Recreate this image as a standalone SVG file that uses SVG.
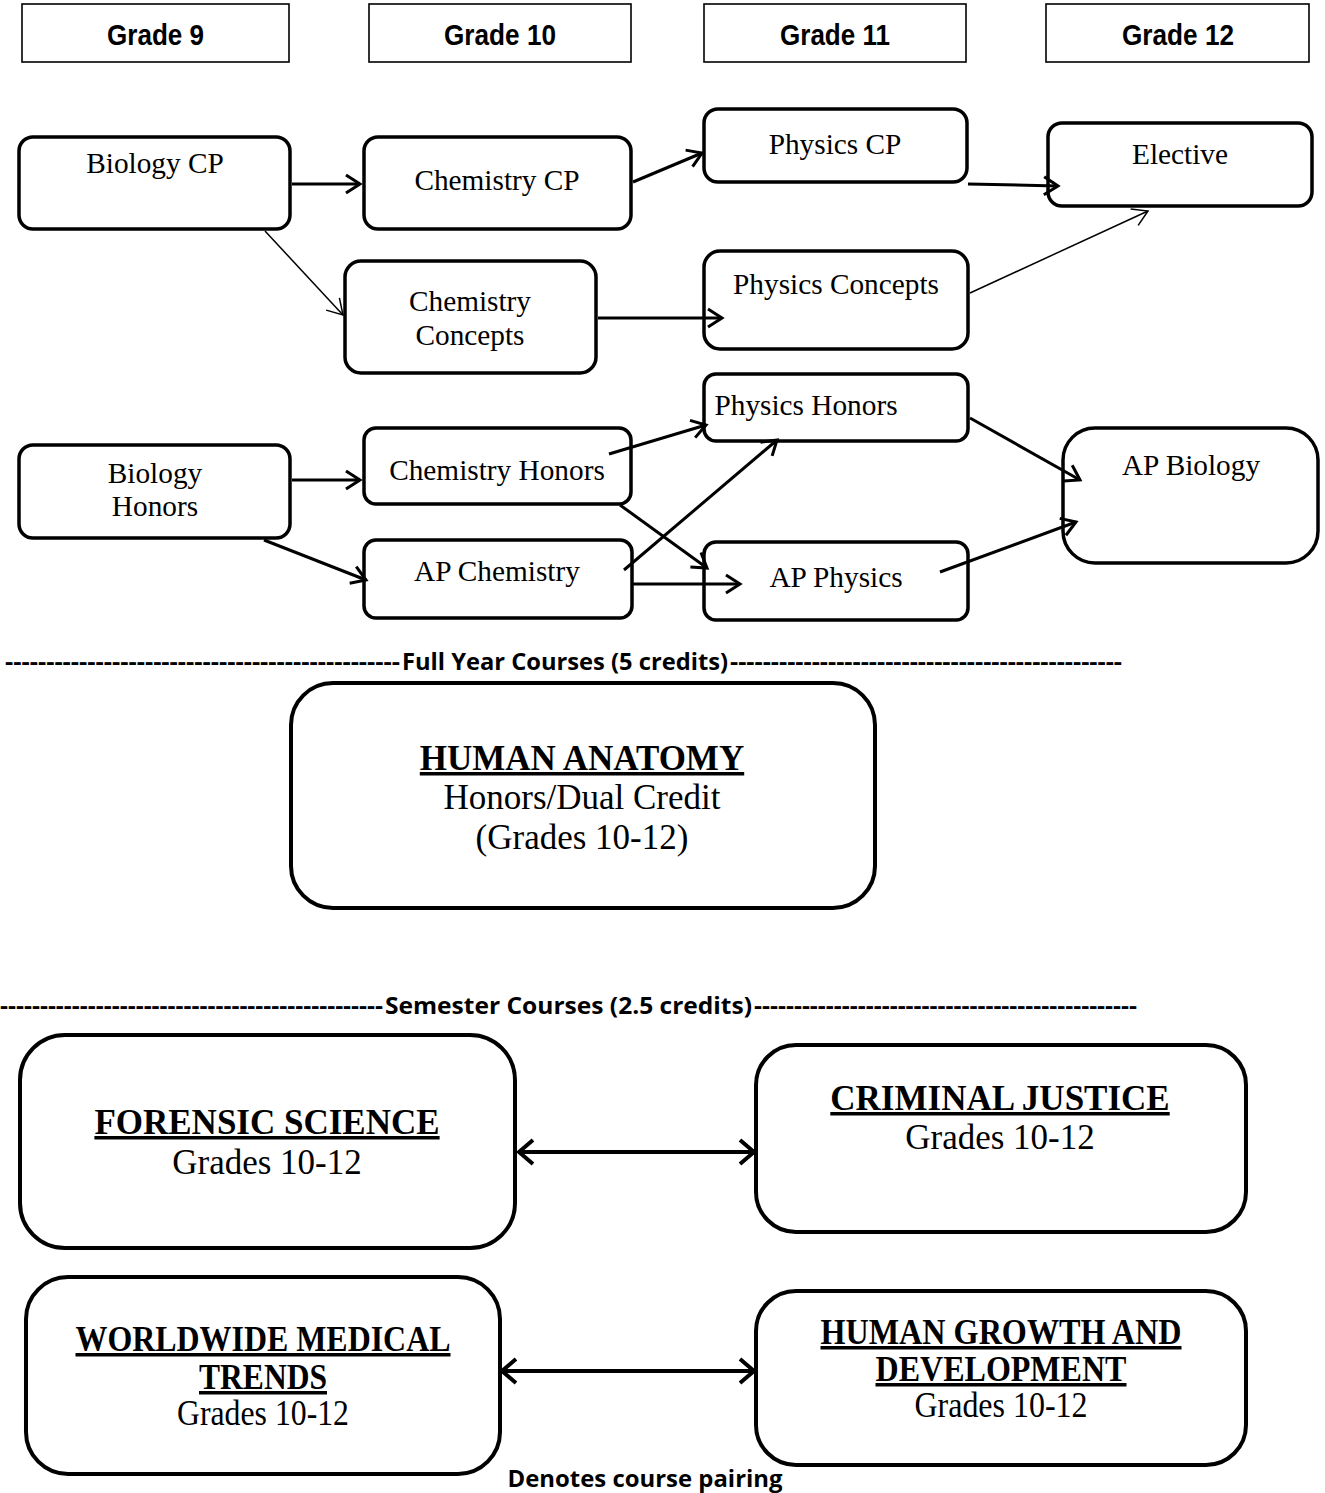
<svg xmlns="http://www.w3.org/2000/svg" width="1325" height="1493" viewBox="0 0 1325 1493">
<style>
.hdr{fill:#fff;stroke:#000;stroke-width:1.6}
.hdrt{font-family:"Liberation Sans",Arial,sans-serif;font-weight:bold;font-size:30px;text-anchor:middle}
.nd{fill:#fff;stroke:#000;stroke-width:3.5}
.big{fill:#fff;stroke:#000;stroke-width:4}
.t{font-family:"Liberation Serif","Times New Roman",serif;font-size:29.3px;text-anchor:middle}
.tb{font-family:"Liberation Serif","Times New Roman",serif;font-size:35px;text-anchor:middle;font-weight:bold;text-decoration:underline}
.tg{font-family:"Liberation Serif","Times New Roman",serif;font-size:35px;text-anchor:middle}
.sep{font-family:"Open Sans","Liberation Sans",sans-serif;font-weight:bold;font-size:24px}
.c{fill:none;stroke:#000;stroke-width:3}
.ct{fill:none;stroke:#000;stroke-width:1.5}
.cd{fill:none;stroke:#000;stroke-width:4}
</style>
<defs>
<marker id="ah" markerUnits="userSpaceOnUse" viewBox="-20 -14 24 28" markerWidth="24" markerHeight="28" refX="0" refY="0" orient="auto">
<path d="M-14,-9 L0,0 L-14,9" fill="none" stroke="#000" stroke-width="3"/>
</marker>
<marker id="aht" markerUnits="userSpaceOnUse" viewBox="-20 -14 24 28" markerWidth="24" markerHeight="28" refX="0" refY="0" orient="auto">
<path d="M-15,-9 L0,0 L-15,9" fill="none" stroke="#000" stroke-width="1.5"/>
</marker>
<marker id="ahd" markerUnits="userSpaceOnUse" viewBox="-20 -16 24 32" markerWidth="24" markerHeight="32" refX="0" refY="0" orient="auto-start-reverse">
<path d="M-14,-12 L0,0 L-14,12" fill="none" stroke="#000" stroke-width="4"/>
</marker>
</defs>

<g id="hdr-g9"><rect class="hdr" x="22" y="4" width="267" height="58"/><text class="hdrt" x="155.5" y="45" textLength="97" lengthAdjust="spacingAndGlyphs">Grade 9</text></g>
<g id="hdr-g10"><rect class="hdr" x="369" y="4" width="262" height="58"/><text class="hdrt" x="500" y="45" textLength="112" lengthAdjust="spacingAndGlyphs">Grade 10</text></g>
<g id="hdr-g11"><rect class="hdr" x="704" y="4" width="262" height="58"/><text class="hdrt" x="835" y="45" textLength="110" lengthAdjust="spacingAndGlyphs">Grade 11</text></g>
<g id="hdr-g12"><rect class="hdr" x="1046" y="4" width="263" height="58"/><text class="hdrt" x="1178" y="45" textLength="112" lengthAdjust="spacingAndGlyphs">Grade 12</text></g>

<g id="biology-cp"><rect class="nd" x="19" y="137" width="271" height="92" rx="14"/><text class="t" x="155" y="173">Biology CP</text></g>
<g id="chemistry-cp"><rect class="nd" x="364" y="137" width="267" height="92" rx="14"/><text class="t" x="497" y="190">Chemistry CP</text></g>
<g id="physics-cp"><rect class="nd" x="704" y="109" width="263" height="73" rx="14"/><text class="t" x="835" y="154">Physics CP</text></g>
<g id="elective"><rect class="nd" x="1048" y="123" width="264" height="83" rx="14"/><text class="t" x="1180" y="164">Elective</text></g>
<g id="chemistry-concepts"><rect class="nd" x="345" y="261" width="251" height="112" rx="16"/><text class="t" x="470" y="311">Chemistry</text><text class="t" x="470" y="345">Concepts</text></g>
<g id="physics-concepts"><rect class="nd" x="704" y="251" width="264" height="98" rx="16"/><text class="t" x="836" y="294">Physics Concepts</text></g>
<g id="physics-honors"><rect class="nd" x="704" y="374" width="264" height="67" rx="12"/><text class="t" x="806" y="415">Physics Honors</text></g>
<g id="biology-honors"><rect class="nd" x="19" y="445" width="271" height="93" rx="14"/><text class="t" x="155" y="483">Biology</text><text class="t" x="155" y="516">Honors</text></g>
<g id="chemistry-honors"><rect class="nd" x="364" y="428" width="267" height="76" rx="12"/><text class="t" x="497" y="480">Chemistry Honors</text></g>
<g id="ap-chemistry"><rect class="nd" x="364" y="540" width="268" height="78" rx="12"/><text class="t" x="497" y="581">AP Chemistry</text></g>
<g id="ap-physics"><rect class="nd" x="704" y="542" width="264" height="78" rx="12"/><text class="t" x="836" y="587">AP Physics</text></g>
<g id="ap-biology"><rect class="nd" x="1063" y="428" width="255" height="135" rx="32"/><text class="t" x="1191" y="475">AP Biology</text></g>

<g id="sep-full">
<text class="sep" x="5" y="670" textLength="395" lengthAdjust="spacingAndGlyphs">------------------------------------------------</text>
<text class="sep" x="402" y="670" textLength="326" lengthAdjust="spacingAndGlyphs">Full Year Courses (5 credits)</text>
<text class="sep" x="730" y="670" textLength="392" lengthAdjust="spacingAndGlyphs">------------------------------------------------</text>
</g>

<g id="human-anatomy"><rect class="big" x="291" y="683" width="584" height="225" rx="42"/>
<text class="tb" x="582" y="770">HUMAN ANATOMY</text>
<text class="tg" x="582" y="809">Honors/Dual Credit</text>
<text class="tg" x="582" y="849">(Grades 10-12)</text></g>

<g id="sep-sem">
<text class="sep" x="0" y="1014" textLength="383" lengthAdjust="spacingAndGlyphs">------------------------------------------------</text>
<text class="sep" x="385" y="1014" textLength="367" lengthAdjust="spacingAndGlyphs">Semester Courses (2.5 credits)</text>
<text class="sep" x="754" y="1014" textLength="383" lengthAdjust="spacingAndGlyphs">------------------------------------------------</text>
</g>

<g id="forensic-science"><rect class="big" x="20" y="1035" width="495" height="213" rx="45"/>
<text class="tb" x="267" y="1134">FORENSIC SCIENCE</text>
<text class="tg" x="267" y="1174">Grades 10-12</text></g>
<g id="criminal-justice"><rect class="big" x="756" y="1045" width="490" height="187" rx="40"/>
<text class="tb" x="1000" y="1110">CRIMINAL JUSTICE</text>
<text class="tg" x="1000" y="1149">Grades 10-12</text></g>
<g id="worldwide-medical-trends"><rect class="big" x="26" y="1277" width="474" height="197" rx="42"/>
<text class="tb" x="263" y="1351" textLength="375" lengthAdjust="spacingAndGlyphs">WORLDWIDE MEDICAL</text>
<text class="tb" x="263" y="1389" textLength="128" lengthAdjust="spacingAndGlyphs">TRENDS</text>
<text class="tg" x="263" y="1425" textLength="172" lengthAdjust="spacingAndGlyphs">Grades 10-12</text></g>
<g id="human-growth"><rect class="big" x="756" y="1291" width="490" height="174" rx="40"/>
<text class="tb" x="1001" y="1344" textLength="361" lengthAdjust="spacingAndGlyphs">HUMAN GROWTH AND</text>
<text class="tb" x="1001" y="1381" textLength="251" lengthAdjust="spacingAndGlyphs">DEVELOPMENT</text>
<text class="tg" x="1001" y="1417" textLength="173" lengthAdjust="spacingAndGlyphs">Grades 10-12</text></g>

<g id="legend"><text x="645" y="1487" text-anchor="middle" font-family="'Open Sans','Liberation Sans',sans-serif" font-weight="bold" font-size="23" textLength="275" lengthAdjust="spacingAndGlyphs">Denotes course pairing</text></g>

<g id="connectors">
<line class="c" x1="292" y1="184" x2="360" y2="184" marker-end="url(#ah)"/>
<line class="ct" x1="265" y1="231" x2="343" y2="315" marker-end="url(#aht)"/>
<line class="c" x1="633" y1="182" x2="702" y2="153" marker-end="url(#ah)"/>
<line class="c" x1="968" y1="184" x2="1058" y2="186" marker-end="url(#ah)"/>
<line class="ct" x1="970" y1="293" x2="1148" y2="211" marker-end="url(#aht)"/>
<line class="c" x1="598" y1="318" x2="722" y2="318" marker-end="url(#ah)"/>
<line class="c" x1="292" y1="480" x2="360" y2="480" marker-end="url(#ah)"/>
<line class="c" x1="264" y1="540" x2="366" y2="580" marker-end="url(#ah)"/>
<line class="c" x1="609" y1="454" x2="706" y2="425" marker-end="url(#ah)"/>
<line class="c" x1="620" y1="505" x2="707" y2="568" marker-end="url(#ah)"/>
<line class="c" x1="624" y1="570" x2="777" y2="440" marker-end="url(#ah)"/>
<line class="c" x1="633" y1="584" x2="740" y2="584" marker-end="url(#ah)"/>
<line class="c" x1="970" y1="418" x2="1080" y2="480" marker-end="url(#ah)"/>
<line class="c" x1="940" y1="572" x2="1076" y2="522" marker-end="url(#ah)"/>
<line class="cd" x1="519" y1="1152" x2="754" y2="1152" marker-start="url(#ahd)" marker-end="url(#ahd)"/>
<line class="cd" x1="502" y1="1371" x2="754" y2="1371" marker-start="url(#ahd)" marker-end="url(#ahd)"/>
</g>
</svg>
